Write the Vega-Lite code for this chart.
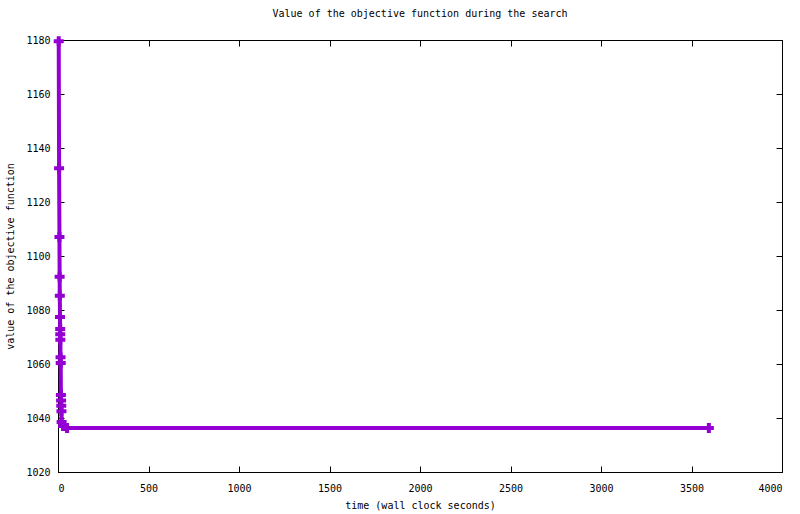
{
  "$schema": "https://vega.github.io/schema/vega-lite/v6.json",
  "width": 724,
  "height": 432,
  "autosize": "none",
  "padding": {"left": 58, "top": 40, "right": 18, "bottom": 42},
  "title": {
    "text": "Value of the objective function during the search",
    "font": "DejaVu Sans Mono",
    "fontSize": 10,
    "fontWeight": "normal",
    "color": "black",
    "anchor": "middle",
    "offset": 14
  },
  "config": {
    "view": {"stroke": "black", "strokeWidth": 1},
    "axis": {
      "labelFont": "DejaVu Sans Mono",
      "labelFontSize": 10,
      "labelColor": "black",
      "titleFont": "DejaVu Sans Mono",
      "titleFontSize": 10,
      "titleFontWeight": "normal",
      "titleColor": "black",
      "domainColor": "black",
      "tickColor": "black",
      "tickSize": -6,
      "grid": false,
      "format": "d"
    }
  },
  "data": {
    "values": [
      {"time": 4, "value": 1179.5},
      {"time": 6, "value": 1132.5},
      {"time": 8, "value": 1107},
      {"time": 9, "value": 1092.3},
      {"time": 10, "value": 1085.3},
      {"time": 11, "value": 1077.4},
      {"time": 12, "value": 1073},
      {"time": 12.5, "value": 1071},
      {"time": 13, "value": 1069},
      {"time": 14, "value": 1062.5},
      {"time": 15, "value": 1060.4},
      {"time": 16, "value": 1048.5},
      {"time": 17, "value": 1046.5},
      {"time": 18, "value": 1044.5},
      {"time": 19, "value": 1042.5},
      {"time": 20, "value": 1038.5},
      {"time": 28, "value": 1037},
      {"time": 50, "value": 1036.3},
      {"time": 3596, "value": 1036.3}
    ]
  },
  "layer": [
    {
      "mark": {
        "type": "line",
        "color": "#9400D3",
        "strokeWidth": 4,
        "clip": false,
        "point": {"shape": "cross", "size": 100, "color": "#9400D3", "filled": true, "opacity": 1}
      },
      "encoding": {
        "x": {
          "field": "time",
          "type": "quantitative",
          "scale": {"domain": [0, 4000], "nice": false},
          "axis": {
            "title": "time (wall clock seconds)",
            "values": [0, 500, 1000, 1500, 2000, 2500, 3000, 3500, 4000],
            "labelPadding": 17,
            "titlePadding": 7
          }
        },
        "y": {
          "field": "value",
          "type": "quantitative",
          "scale": {"domain": [1020, 1180], "nice": false, "zero": false},
          "axis": {
            "title": "value of the objective function",
            "values": [1020, 1040, 1060, 1080, 1100, 1120, 1140, 1160, 1180],
            "labelPadding": 14,
            "titlePadding": 10
          }
        }
      }
    },
    {
      "mark": {"type": "point", "opacity": 0},
      "encoding": {
        "x": {
          "field": "time",
          "type": "quantitative",
          "axis": {
            "orient": "top",
            "title": null,
            "labels": false,
            "domain": false,
            "values": [0, 500, 1000, 1500, 2000, 2500, 3000, 3500, 4000]
          }
        },
        "y": {
          "field": "value",
          "type": "quantitative",
          "axis": {
            "orient": "right",
            "title": null,
            "labels": false,
            "domain": false,
            "values": [1020, 1040, 1060, 1080, 1100, 1120, 1140, 1160, 1180]
          }
        }
      }
    }
  ],
  "resolve": {"axis": {"x": "independent", "y": "independent"}}
}
